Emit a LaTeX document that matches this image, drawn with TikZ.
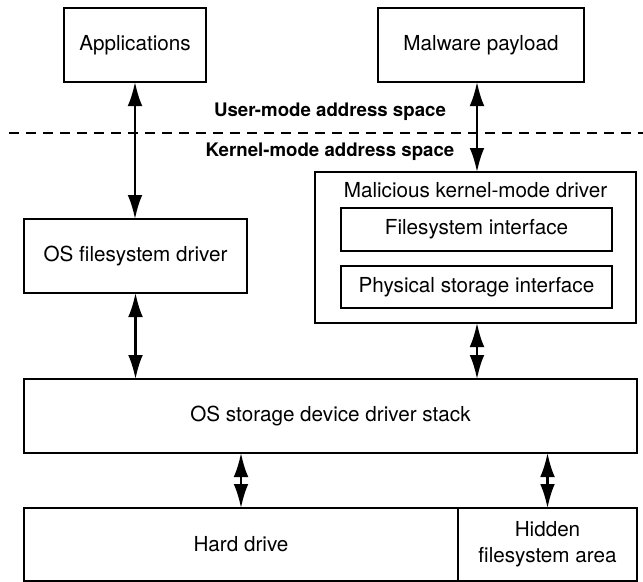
\documentclass[tikz,border=0pt]{standalone}
\usepackage{fontspec}
\setmainfont{TeX Gyre Heros}
\usetikzlibrary{positioning,arrows.meta}
\tikzset{
    txt/.style={inner sep=0pt, outer sep=0pt, align=center,
        font=\fontsize{15.5}{19.5}\selectfont},
    box/.style={txt, draw, line width=1pt, minimum height=55.5pt},
    band/.style={inner sep=0pt, font=\bfseries\fontsize{14}{17}\selectfont},
    dbl/.style={{Latex[length=18pt,width=11pt]}-{Latex[length=18pt,width=11pt]}, line width=1.6pt},
}
\begin{document}
\begin{tikzpicture}[x=0.75pt,y=-0.75pt]
    \useasboundingbox (0,0) rectangle (643,582);

    % user mode
    \node[box,minimum width=106.5pt] (apps) at (135,45) {Applications};
    \node[box,minimum width=154.5pt] (payload) at (481,45) {Malware payload};

    \draw[line width=0.9pt,dash pattern=on 7.5pt off 5.25pt] (9,133) -- (643,133);
    \node[band] (user) at (330,112) {User-mode address space};
    \node[band] (kernel) at (330,152) {Kernel-mode address space};

    % kernel mode
    \node[box,minimum width=167.25pt] (osfs) at (135.5,256) {OS filesystem driver};
    \node[box,minimum width=240.75pt,minimum height=113.25pt] (evil) at (475.5,247.5) {};
    \node[txt] (evtitle) at (475.5,190) {Malicious kernel-mode driver};
    \node[box,minimum width=203.25pt,minimum height=32.25pt] (fsif) at (476.5,229.5) {Filesystem interface};
    \node[box,minimum width=203.25pt,minimum height=31.5pt,below=11.25pt of fsif] (physif) {Physical storage interface};

    \node[box,minimum width=459.75pt] (stack) at (330.5,416) {OS storage device driver stack};

    % disk
    \node[box,minimum width=325.5pt,minimum height=54.75pt] (hd) at (241,544.5) {Hard drive};
    \node[box,minimum width=134.25pt,minimum height=54.75pt,right=0pt of hd] (hidden) {Hidden\\filesystem area};

    \draw[dbl] (apps.south) -- (apps.south |- osfs.north);
    \draw[dbl] (evil.north -| 477,0) -- (payload.south -| 477,0);
    \draw[dbl] (osfs.south) -- (osfs.south |- stack.north);
    \draw[dbl] (evil.south -| 477,0) -- (stack.north -| 477,0);
    \draw[dbl] (hd.north) -- (hd.north |- stack.south);
    \draw[dbl] (hidden.north) -- (hidden.north |- stack.south);
\end{tikzpicture}
\end{document}
